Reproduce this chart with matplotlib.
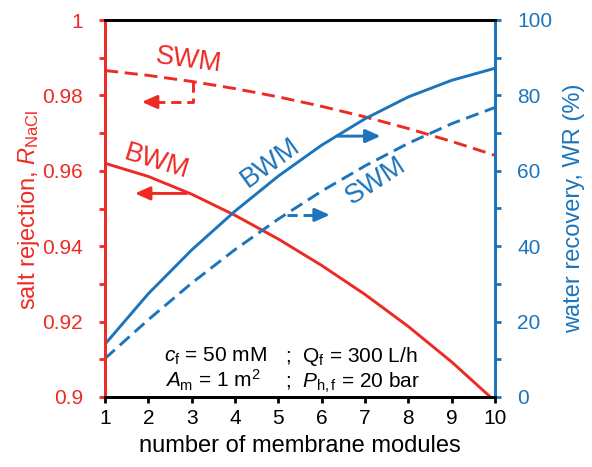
import matplotlib
matplotlib.use("Agg")
import matplotlib.pyplot as plt
from matplotlib.ticker import MultipleLocator, FuncFormatter

plt.rcParams["font.family"] = "Liberation Sans"
plt.rcParams["mathtext.fontset"] = "custom"
plt.rcParams["mathtext.rm"] = "Liberation Sans"
plt.rcParams["mathtext.it"] = "Liberation Sans:italic"
plt.rcParams["mathtext.bf"] = "Liberation Sans:bold"

RED = "#ed2b24"
BLUE = "#1c75bc"

# data
modules = [1, 2, 3, 4, 5, 6, 7, 8, 9, 10]
rej_bwm = [0.9620, 0.9585, 0.9538, 0.9482, 0.9419, 0.9349, 0.9272, 0.9187, 0.9093, 0.8989]
rej_swm = [0.9866, 0.9853, 0.9837, 0.9818, 0.9796, 0.9771, 0.9743, 0.9712, 0.9678, 0.9641]
wr_bwm = [14.0, 27.4, 39.0, 49.3, 58.6, 66.8, 73.8, 79.6, 84.0, 87.2]
wr_swm = [10.2, 20.5, 30.2, 39.1, 47.2, 54.6, 61.3, 67.3, 72.5, 76.8]

LW = 2.1
DASH = (4.5, 2.3)

fig = plt.figure(figsize=(5.92, 4.67), dpi=100)
ax = fig.add_axes([105 / 592, 1 - 397 / 467, 390 / 592, 377 / 467])
ax2 = ax.twinx()

# salt rejection (left axis)
ax.plot(modules, rej_bwm, color=RED, lw=LW)
ax.plot(modules, rej_swm, color=RED, lw=LW, dashes=DASH)
# water recovery (right axis)
ax2.plot(modules, wr_bwm, color=BLUE, lw=LW)
ax2.plot(modules, wr_swm, color=BLUE, lw=LW, dashes=DASH)

ax.set_xlim(1, 10)
ax.set_ylim(0.9, 1.0)
ax2.set_ylim(0, 100)

ax.xaxis.set_major_locator(MultipleLocator(1))
ax.yaxis.set_major_locator(MultipleLocator(0.02))
ax.yaxis.set_minor_locator(MultipleLocator(0.01))
ax.yaxis.set_major_formatter(FuncFormatter(lambda v, p: f"{v:g}"))
ax2.yaxis.set_major_locator(MultipleLocator(20))
ax2.yaxis.set_minor_locator(MultipleLocator(10))

# spines
for a in (ax, ax2):
    for s in a.spines.values():
        s.set_linewidth(2.0)
    a.spines["top"].set_color("black")
    a.spines["bottom"].set_color("black")
    a.spines["left"].set_color(RED)
    a.spines["right"].set_color(BLUE)

ax.tick_params(axis="x", which="both", direction="out", length=4, width=2,
               color="black", labelsize=15, pad=5)
ax.tick_params(axis="y", which="both", direction="out", length=4, width=2,
               color=RED, labelcolor=RED, labelsize=15, pad=12)
ax2.tick_params(axis="y", which="both", direction="out", length=4, width=2,
                color=BLUE, labelcolor=BLUE, labelsize=15, pad=12)

ax.set_xlabel("number of membrane modules", fontsize=17, labelpad=5)
fig.text(29 / 592, 1 - 210 / 467, r"salt rejection, $R_{\mathrm{NaCl}}$", color=RED,
         fontsize=17, rotation=90, ha="center", va="center")
fig.text(574 / 592, 1 - 208 / 467, "water recovery, WR (%)", color=BLUE,
         fontsize=17, rotation=90, ha="center", va="center")

# curve labels
ax.text(2.92, 0.9894, "SWM", color=RED, fontsize=19.5, rotation=-7.5,
        ha="center", va="center")
ax.text(2.19, 0.9624, "BWM", color=RED, fontsize=19.5, rotation=-17,
        ha="center", va="center")
ax2.text(4.81, 62.1, "BWM", color=BLUE, fontsize=19.5, rotation=36,
         ha="center", va="center")
ax2.text(7.25, 57.4, "SWM", color=BLUE, fontsize=19.5, rotation=33,
         ha="center", va="center")

head = dict(arrowstyle="-|>,head_length=0.45,head_width=0.2", mutation_scale=20,
            shrinkA=0, shrinkB=0, lw=LW)

# solid arrows
ax.annotate("", xy=(1.69, 0.9540), xytext=(2.885, 0.9540),
            arrowprops=dict(color=RED, **head))
ax2.annotate("", xy=(7.36, 69.2), xytext=(6.35, 69.2),
             arrowprops=dict(color=BLUE, **head))

# dashed arrows: dashed shaft plus a short solid head
ax.plot([3.04, 3.04, 2.12], [0.98363, 0.97825, 0.97825], color=RED, lw=LW,
        dashes=(3.5, 2.0))
ax.annotate("", xy=(1.85, 0.97825), xytext=(2.1, 0.97825),
            arrowprops=dict(color=RED, **head))
ax2.plot([5.19, 5.9], [48.3, 48.3], color=BLUE, lw=LW, dashes=(3.5, 2.0))
ax2.annotate("", xy=(6.19, 48.3), xytext=(5.94, 48.3),
             arrowprops=dict(color=BLUE, **head))

# operating conditions
ax.text(2.37, 0.9093, r"$c_{\mathrm{f}}$ = 50 mM", fontsize=15, ha="left", va="baseline")
ax.text(5.16, 0.9093, r";  Q$_{\mathrm{f}}$ = 300 L/h", fontsize=15, ha="left", va="baseline")
ax.text(2.39, 0.9024, r"$A_{\mathrm{m}}$ = 1 m$^{2}$", fontsize=15, ha="left", va="baseline")
ax.text(5.16, 0.9024, r";  $P_{\mathrm{h,f}}$ = 20 bar", fontsize=15, ha="left", va="baseline")

fig.savefig("out.png", dpi=100)
